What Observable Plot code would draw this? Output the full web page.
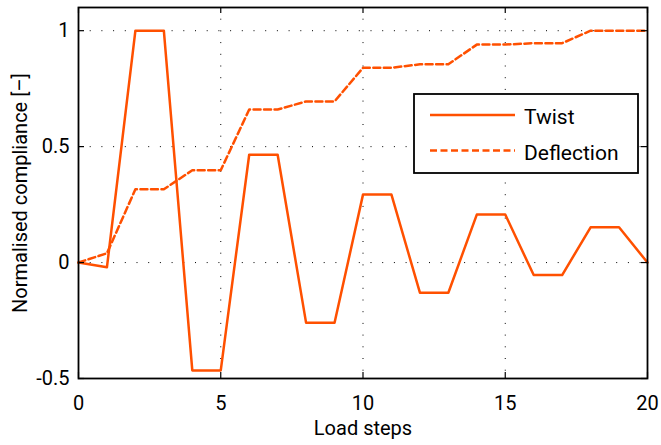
<!DOCTYPE html>
<html>
<head>
<meta charset="utf-8">
<script src="https://cdn.jsdelivr.net/npm/d3@7"></script>
<script src="https://cdn.jsdelivr.net/npm/@observablehq/plot@0.6"></script>
<style>
  body { margin: 0; background: #fff; }
  #wrap { position: relative; width: 661px; height: 445px; font-family: Roboto, sans-serif; }
  #legend { position: absolute; left: 413px; top: 93px; }
</style>
</head>
<body>
<div id="wrap"></div>
<script>
// Data
const steps = [0,1,2,3,4,5,6,7,8,9,10,11,12,13,14,15,16,17,18,19,20];
const twist = [0,-0.02,1,1,-0.465,-0.465,0.465,0.465,-0.26,-0.26,0.293,0.293,-0.13,-0.13,0.207,0.207,-0.054,-0.054,0.152,0.152,0];
const deflection = [0,0.04,0.316,0.316,0.398,0.398,0.66,0.66,0.695,0.695,0.84,0.84,0.855,0.855,0.94,0.94,0.946,0.946,1,1,1];
const seriesNames = ["Twist", "Deflection"];
const xTicks = [0,5,10,15,20];
const yTicks = [-0.5,0,0.5,1];

const color = "#FF5000";
const W = 661, H = 445;
const mL = 78, mR = 14, mT = 7, mB = 67;
const plotW = W - mL - mR, plotH = H - mT - mB;
const tickLen = 6;

const twistData = steps.map((s,i) => ({step: s, value: twist[i]}));
const deflData = steps.map((s,i) => ({step: s, value: deflection[i]}));

const chart = Plot.plot({
  width: W, height: H,
  marginLeft: mL, marginRight: mR, marginTop: mT, marginBottom: mB,
  style: {fontFamily: "Roboto, sans-serif", fontSize: "20px", color: "black", background: "white"},
  x: {domain: [0, 20]},
  y: {domain: [-0.5, 1.1]},
  marks: [
    Plot.gridX(xTicks, {stroke: "black", strokeOpacity: 1, strokeDasharray: "1,10.7", strokeWidth: 1}),
    Plot.gridY(yTicks, {stroke: "black", strokeOpacity: 1, strokeDasharray: "1,10.7", strokeWidth: 1}),
    Plot.line(deflData, {x: "step", y: "value", stroke: color, strokeWidth: 2.5, strokeDasharray: "7,3.5"}),
    Plot.line(twistData, {x: "step", y: "value", stroke: color, strokeWidth: 2.5}),
    Plot.tickX(xTicks, {x: d => d, stroke: "black", strokeWidth: 1.2, insetTop: plotH - tickLen}),
    Plot.tickX(xTicks, {x: d => d, stroke: "black", strokeWidth: 1.2, insetBottom: plotH - tickLen}),
    Plot.tickY(yTicks, {y: d => d, stroke: "black", strokeWidth: 1.2, insetRight: plotW - tickLen}),
    Plot.tickY(yTicks, {y: d => d, stroke: "black", strokeWidth: 1.2, insetLeft: plotW - tickLen}),
    Plot.frame({stroke: "black", strokeWidth: 1.8}),
    Plot.axisX(xTicks, {tickSize: 0, tickPadding: 17, label: null, tickFormat: d => String(d)}),
    Plot.axisY(yTicks, {tickSize: 0, tickPadding: 9, label: null, tickFormat: d => String(d)}),
    Plot.text(["Load steps"], {frameAnchor: "bottom", dy: 56, lineAnchor: "bottom", fontSize: 20}),
    Plot.text(["Normalised compliance [–]"], {frameAnchor: "left", dx: -58, rotate: -90, textAnchor: "middle", lineAnchor: "middle", fontSize: 20})
  ]
});
document.getElementById("wrap").appendChild(chart);

// Legend (overlay)
const lg = d3.select("#wrap").append("svg").attr("id", "legend")
  .attr("width", 226).attr("height", 81);
lg.append("rect").attr("x", 1).attr("y", 1).attr("width", 224).attr("height", 79)
  .attr("fill", "white").attr("stroke", "black").attr("stroke-width", 1.8);
seriesNames.forEach((name, i) => {
  const yy = 22 + i * 35.5;
  lg.append("line").attr("x1", 17).attr("x2", 102).attr("y1", yy).attr("y2", yy)
    .attr("stroke", color).attr("stroke-width", 2.5)
    .attr("stroke-dasharray", i === 1 ? "7,3.5" : null);
  lg.append("text").attr("x", 111).attr("y", yy + 9).text(name)
    .attr("font-family", "Roboto, sans-serif").attr("font-size", 21).attr("fill", "black");
});
</script>
</body>
</html>
